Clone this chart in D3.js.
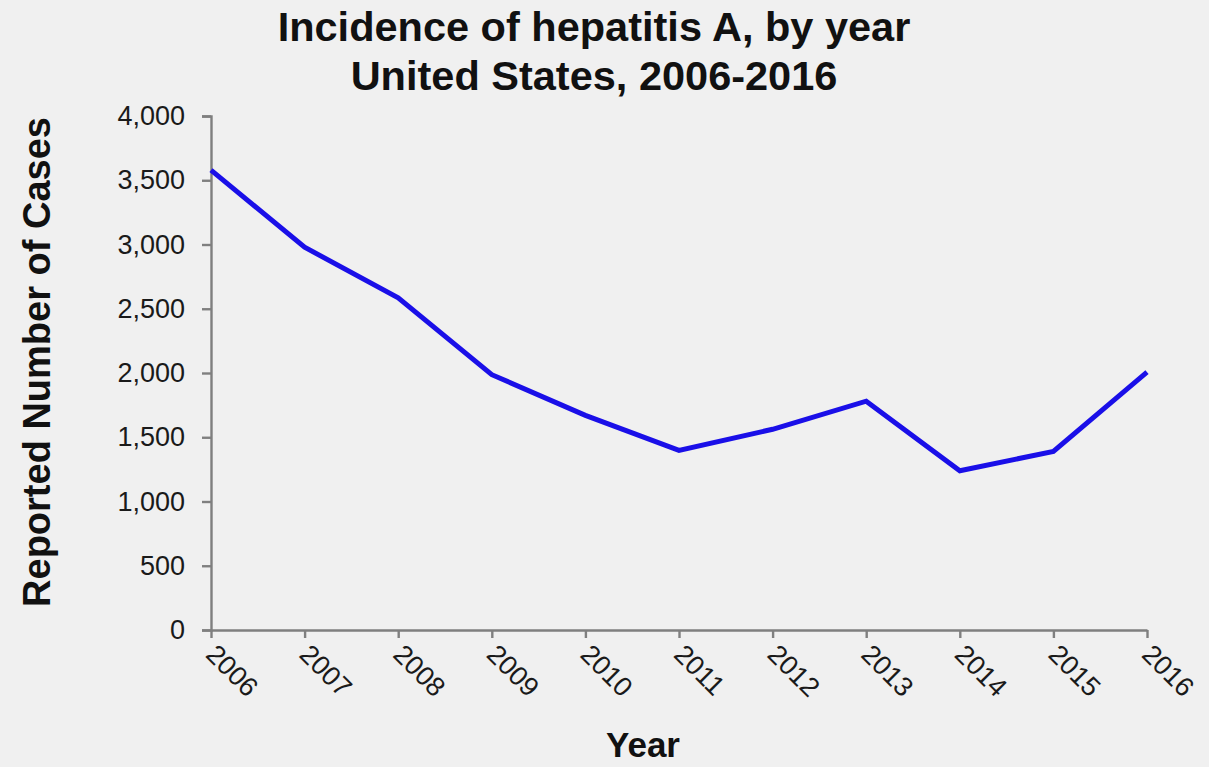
<!DOCTYPE html>
<html><head><meta charset="utf-8">
<script src="https://cdn.jsdelivr.net/npm/d3@7"></script>
<style>body{margin:0;background:#f0f0f0;}svg{display:block;}</style>
</head><body>
<svg id="c" width="1209" height="767"></svg>
<script>
const years = [2006,2007,2008,2009,2010,2011,2012,2013,2014,2015,2016];
const cases = [3579,2979,2585,1987,1670,1398,1562,1781,1239,1390,2007];
const yTicks = [0,500,1000,1500,2000,2500,3000,3500,4000];
const titleLines = ["Incidence of hepatitis A, by year","United States, 2006-2016"];
const xTitle = "Year";
const yTitle = "Reported Number of Cases";

const svg = d3.select("#c");
const font = "Liberation Sans, Arial, sans-serif";
svg.append("rect").attr("width",1209).attr("height",767).attr("fill","#f0f0f0");

const x = d3.scalePoint().domain(years).range([211,1147]);
const y = d3.scaleLinear().domain([0,4000]).range([630,116]);

const gy = svg.append("g").attr("transform","translate(211,0)")
  .call(d3.axisLeft(y).tickValues(yTicks).tickFormat(d3.format(",")).tickSize(9).tickPadding(17));
gy.selectAll("text").attr("font-size",27).attr("font-family",font).attr("fill","#1a1a1a");

const gx = svg.append("g").attr("transform","translate(0,630)")
  .call(d3.axisBottom(x).tickSize(8).tickSizeOuter(0));
gx.selectAll("text").attr("font-size",27).attr("font-family",font).attr("fill","#1a1a1a")
  .attr("text-anchor","start").attr("dy",0).attr("y",0).attr("x",0)
  .attr("transform","translate(-7,26) rotate(45)");

svg.selectAll(".domain, .tick line").attr("stroke","#7f7f7f").attr("stroke-width",2.4);

svg.append("path").datum(years.map((yr,i)=>[yr,cases[i]]))
  .attr("fill","none").attr("stroke","#1a0fe8").attr("stroke-width",5)
  .attr("stroke-linejoin","miter")
  .attr("d", d3.line().x(d=>x(d[0])).y(d=>y(d[1])));

svg.selectAll(".title").data(titleLines).enter().append("text")
  .attr("x",594).attr("y",(d,i)=>41+i*49)
  .attr("text-anchor","middle").attr("font-family",font).attr("font-weight","bold")
  .attr("font-size",41.5).attr("fill","#111").text(d=>d);

svg.append("text").attr("x",643).attr("y",757).attr("text-anchor","middle")
  .attr("font-family",font).attr("font-weight","bold").attr("font-size",35).attr("fill","#111").text(xTitle);

svg.append("text").attr("transform","translate(50,362) rotate(-90)").attr("text-anchor","middle")
  .attr("font-family",font).attr("font-weight","bold").attr("font-size",38).attr("fill","#111").text(yTitle);
</script>
</body></html>
